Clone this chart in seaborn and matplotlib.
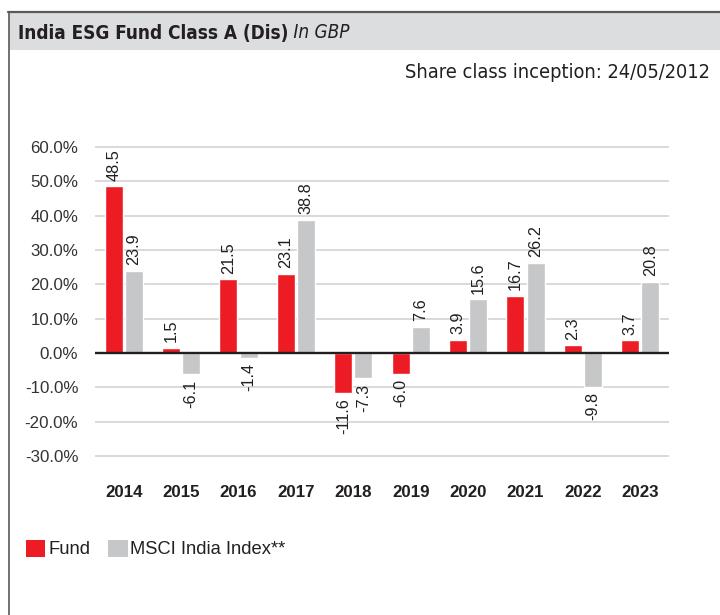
import matplotlib
matplotlib.use("Agg")
import matplotlib.pyplot as plt
import seaborn as sns
import pandas as pd
from matplotlib.patches import Rectangle, Patch
from matplotlib.lines import Line2D
from matplotlib.ticker import FuncFormatter
from matplotlib import font_manager as fm

years = ["2014", "2015", "2016", "2017", "2018", "2019", "2020", "2021", "2022", "2023"]
fund = [48.5, 1.5, 21.5, 23.1, -11.6, -6.0, 3.9, 16.7, 2.3, 3.7]
index = [23.9, -6.1, -1.4, 38.8, -7.3, 7.6, 15.6, 26.2, -9.8, 20.8]
series_names = ["Fund", "MSCI India Index**"]
series_colors = ["#ed1c24", "#c6c7c8"]
yticks = [-30, -20, -10, 0, 10, 20, 30, 40, 50, 60]
title_main = "India ESG Fund Class A (Dis)"
title_sub = " In GBP"
inception = "Share class inception: 24/05/2012"

df = pd.DataFrame({
    "Year": years * 2,
    "Return": fund + index,
    "Series": [series_names[0]] * len(years) + [series_names[1]] * len(years),
})

sns.set_theme(style="white")
plt.rcParams["font.family"] = ["Liberation Sans", "DejaVu Sans"]

W, H = 720, 615
fig = plt.figure(figsize=(W / 100, H / 100), dpi=100)

# frame / header
fig.patches.append(Rectangle((9 / W, 1 - 50 / H), 1, 37 / H, transform=fig.transFigure,
                             facecolor="#dcdddf", edgecolor="none", zorder=0))
fig.lines.append(Line2D([8 / W, 1], [1 - 12 / H, 1 - 12 / H], transform=fig.transFigure,
                        color="#58595b", lw=1.6))
fig.lines.append(Line2D([8.7 / W, 8.7 / W], [0, 1 - 11.5 / H], transform=fig.transFigure,
                        color="#58595b", lw=1.2))

# condensed header font if available
names = {f.name for f in fm.fontManager.ttflist}
cond_stretch = "normal"
if "Liberation Sans Narrow" in names:
    narrow = ["Liberation Sans Narrow"]
else:
    narrow = ["DejaVu Sans"]
    cond_stretch = "condensed"

renderer = fig.canvas.get_renderer()
t1 = fig.text(18 / W, 1 - 33 / H, title_main, fontsize=15, fontweight="bold",
              family=narrow, fontstretch=cond_stretch, va="center", ha="left",
              color="#231f20")
w1 = t1.get_window_extent(renderer).width
t1.set_fontsize(15 * 272 / w1)
fig.canvas.draw()
bb = t1.get_window_extent(renderer)
fig.text(bb.x1 / W, 1 - 33 / H, title_sub, fontsize=t1.get_fontsize(), fontstyle="italic",
         family=narrow, fontstretch=cond_stretch, va="center", ha="left", color="#231f20")
t3 = fig.text(710 / W, 1 - 73 / H, inception, fontsize=15, family=narrow,
              fontstretch=cond_stretch, va="center", ha="right", color="#231f20")
w3 = t3.get_window_extent(renderer).width
t3.set_fontsize(15 * 305 / w3)

# axes: -31..61 mapped so 60 -> y=147px, -30 -> y=456px
ppu = (456 - 147) / 90.0
top_px = 147 - ppu * 1
bot_px = 456 + ppu * 1
ax = fig.add_axes([95 / W, 1 - bot_px / H, 574 / W, (bot_px - top_px) / H])

sns.barplot(data=df, x="Year", y="Return", hue="Series", palette=series_colors,
            width=0.697, gap=0.1, ax=ax, legend=False, saturation=1, zorder=3)

ax.set_ylim(-31, 61)
ax.set_xlim(-0.5, len(years) - 0.5)
ax.set_yticks(yticks)
ax.yaxis.set_major_formatter(FuncFormatter(lambda v, p: f"{v:.1f}%"))
for y in yticks:
    if y != 0:
        ax.axhline(y, color="#cfcfcf", lw=1.1, zorder=1)
ax.axhline(0, color="#231f20", lw=1.7, zorder=4)

for s in ax.spines.values():
    s.set_visible(False)
ax.set_xlabel("")
ax.set_ylabel("")
ax.tick_params(axis="y", length=0, pad=12, labelsize=12.2, labelcolor="#333333")
ax.tick_params(axis="x", length=0, pad=18.5, labelsize=12.2, labelcolor="#231f20")
for lab in ax.get_xticklabels():
    lab.set_fontweight("bold")

for cont, vals in zip(ax.containers, [fund, index]):
    ax.bar_label(cont, labels=[f"{v:.1f}" for v in vals], rotation=90, padding=4,
                 fontsize=11.7, color="#231f20")

handles = [Patch(facecolor=c, edgecolor="none") for c in series_colors]
fig.legend(handles, series_names, loc="center left",
           bbox_to_anchor=(26 / W, 1 - 549 / H), frameon=False, ncol=2,
           fontsize=13.2, handlelength=1.05, handleheight=1.05, handletextpad=0.15,
           columnspacing=1.0, borderpad=0, borderaxespad=0, labelcolor="#231f20")

fig.savefig("out.png", dpi=100)
